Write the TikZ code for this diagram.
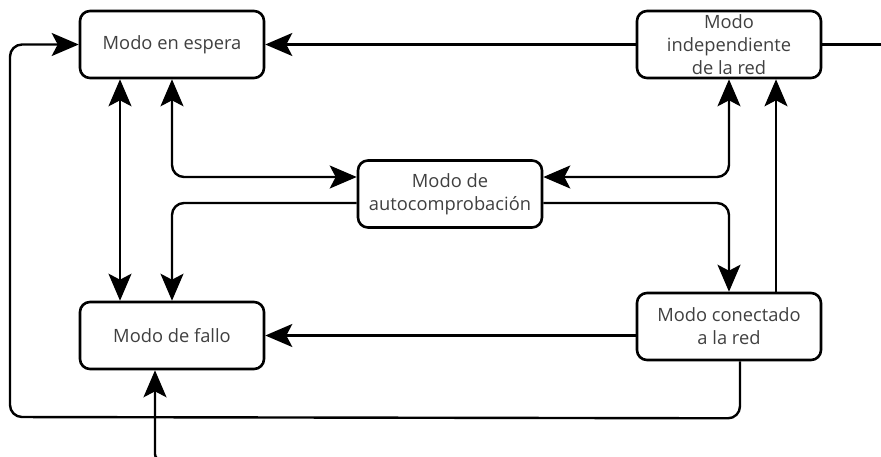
\documentclass[tikz,border=0pt]{standalone}
\usepackage{fontspec}
\setmainfont{Open Sans}
\usetikzlibrary{arrows.meta,calc}
\definecolor{txt}{RGB}{64,64,64}
\tikzset{
  mode/.style={draw=black, line width=2.6pt, rounded corners=10pt, fill=white,
    minimum width=184pt, minimum height=67pt, inner sep=2pt, align=center,
    text=txt, font=\fontsize{18.3}{22.8}\selectfont},
  conn/.style={line width=2.4pt, draw=black},
  tip/.tip={Stealth[length=27pt,width=23pt,inset=6pt]},
}
\begin{document}
\begin{tikzpicture}[x=1pt,y=-1pt]
\useasboundingbox (0,0) rectangle (881,456);
\node[mode] (esp) at (172,44.5) {Modo en espera};
\node[mode] (ind) at (729,44.5) {Modo\\independiente\\de la red};
\node[mode] (aut) at (450,194) {Modo de\\autocomprobación};
\node[mode] (fal) at (172,335.5) {Modo de fallo};
\node[mode] (con) at (729,326.5) {Modo conectado\\a la red};
\coordinate (rightend) at (885,44.5);
\coordinate (bottomend) at (175,460);

% independiente -> espera
\draw[conn,-tip] (ind.west) -- (esp.east);
\draw[conn] (ind.east) -- (rightend);
% loop from conectado to espera
\draw[conn,-tip,rounded corners=12pt] ($(con.south)+(11,0)$) -- ++(0,57) -- (10,417) -- (10,44.5) -- (esp.west);
% espera <-> fallo
\draw[conn,tip-tip] (esp.south -| 120,0) -- (fal.north -| 120,0);
% espera <-> autocomprobacion
\draw[conn,tip-tip,rounded corners=12pt] (esp.south -| 172,0) -- (172,177) -- (aut.west |- 0,177);
% autocomprobacion -> fallo
\draw[conn,-tip,rounded corners=12pt] (aut.west |- 0,203) -- (172,203) -- (fal.north -| 172,0);
% independiente <-> autocomprobacion
\draw[conn,tip-tip,rounded corners=12pt] (ind.south -| 729,0) -- (729,177) -- (aut.east |- 0,177);
% autocomprobacion -> conectado
\draw[conn,-tip,rounded corners=12pt] (aut.east |- 0,203) -- (729,203) -- (con.north -| 729,0);
% conectado -> independiente
\draw[conn,-tip] (con.north -| 776,0) -- (ind.south -| 776,0);
% conectado -> fallo
\draw[conn,-tip] (fal.east -| con.west) -- (fal.east);
% bottom input -> fallo
\draw[conn,-tip,rounded corners=6pt] (bottomend) -- (155,460) -- (fal.south -| 155,0);
\end{tikzpicture}
\end{document}
